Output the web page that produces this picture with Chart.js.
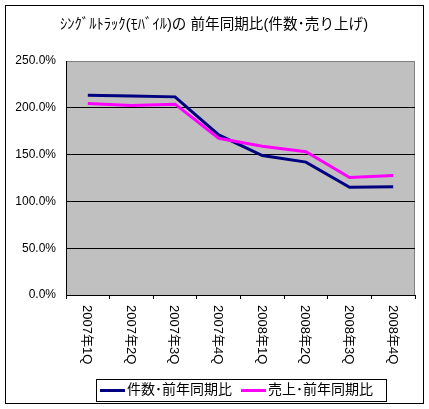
<!DOCTYPE html>
<html>
<head>
<meta charset="utf-8">
<script src="https://cdn.jsdelivr.net/npm/chart.js@4.4.1/dist/chart.umd.min.js"></script>
<style>
html,body{margin:0;padding:0;background:#fff;}
canvas{display:block;}
</style>
</head>
<body>
<canvas id="c" width="429" height="409"></canvas>
<script>
const titleText = 'ｼﾝｸﾞﾙﾄﾗｯｸ(ﾓﾊﾞｲﾙ)の 前年同期比(件数･売り上げ)';
const categories = ['2007年1Q','2007年2Q','2007年3Q','2007年4Q','2008年1Q','2008年2Q','2008年3Q','2008年4Q'];
const countLabel = '件数･前年同期比';
const salesLabel = '売上･前年同期比';
const countValues = [213.5, 212.5, 211.7, 171.0, 149.0, 142.0, 115.0, 115.6];
const salesValues = [204.6, 202.5, 203.9, 167.5, 159.0, 153.0, 125.5, 127.7];
const yTicks = [0, 50, 100, 150, 200, 250];

const FONT = "'Liberation Sans','Noto Sans CJK JP',sans-serif";
const NAVY = '#000080';
const PINK = '#FF00FF';

const decor = {
  id: 'decor',
  beforeDraw(chart) {
    const ctx = chart.ctx;
    const a = chart.chartArea;
    ctx.save();
    ctx.fillStyle = '#fff';
    ctx.fillRect(0, 0, chart.width, chart.height);
    ctx.fillStyle = '#C0C0C0';
    ctx.fillRect(a.left, a.top, a.right - a.left, a.bottom - a.top);
    ctx.strokeStyle = '#808080';
    ctx.lineWidth = 1;
    ctx.strokeRect(a.left + 0.5, a.top + 0.5, a.right - a.left - 1, a.bottom - a.top);
    ctx.restore();
  },
  afterDraw(chart) {
    const ctx = chart.ctx;
    const a = chart.chartArea;
    const xs = chart.scales.x;
    ctx.save();
    // rotated category labels (clockwise)
    ctx.fillStyle = '#000';
    ctx.font = '13px ' + FONT;
    ctx.textAlign = 'left';
    ctx.textBaseline = 'middle';
    chart.data.labels.forEach((lab, i) => {
      const x = xs.getPixelForTick(i);
      ctx.save();
      ctx.translate(x - 1, a.bottom + 10);
      ctx.rotate(Math.PI / 2);
      ctx.fillText(lab, 0, 0);
      ctx.restore();
    });
    // outer frame
    ctx.strokeStyle = '#000';
    ctx.lineWidth = 1;
    ctx.strokeRect(5.5, 5.5, 418, 398);
    // legend
    const lx = 96, ly = 379, lw = 290, lh = 22;
    ctx.strokeRect(lx + 0.5, ly + 0.5, lw, lh);
    const cy = ly + lh / 2 + 0.5;
    const ds = chart.data.datasets;
    ctx.font = '14px ' + FONT;
    ctx.textBaseline = 'middle';
    let x = lx + 4;
    ds.forEach((d, i) => {
      ctx.strokeStyle = d.borderColor;
      ctx.lineWidth = 3;
      ctx.beginPath();
      ctx.moveTo(x, cy);
      ctx.lineTo(x + 25, cy);
      ctx.stroke();
      ctx.fillStyle = '#000';
      ctx.fillText(d.label, x + 27, cy);
      x += 27 + ctx.measureText(d.label).width + 9;
    });
    ctx.restore();
  }
};

new Chart(document.getElementById('c'), {
  type: 'line',
  data: {
    labels: categories,
    datasets: [
      { label: countLabel, data: countValues, borderColor: NAVY, backgroundColor: NAVY,
        borderWidth: 3, pointRadius: 0, tension: 0, order: 1 },
      { label: salesLabel, data: salesValues, borderColor: PINK, backgroundColor: PINK,
        borderWidth: 3, pointRadius: 0, tension: 0, order: 0 }
    ]
  },
  options: {
    responsive: false,
    animation: false,
    devicePixelRatio: 1,
    layout: { padding: { left: 13, right: 14, top: 0, bottom: 31 } },
    plugins: {
      legend: { display: false },
      tooltip: { enabled: false },
      title: {
        display: true,
        text: titleText,
        color: '#000',
        font: { family: FONT, size: 14.6, weight: 'normal', lineHeight: 1.2 },
        padding: { top: 16.5, bottom: 27 }
      }
    },
    scales: {
      x: {
        offset: true,
        afterFit: (s) => { s.height = 83; },
        border: { color: '#000', width: 1 },
        grid: { offset: true, drawOnChartArea: false, drawTicks: true, tickLength: 4, color: '#000' },
        ticks: { display: false }
      },
      y: {
        min: 0, max: 250,
        afterFit: (s) => { s.width = 53; },
        afterBuildTicks: (s) => { s.ticks = yTicks.map(v => ({ value: v })); },
        border: { color: '#000', width: 1 },
        grid: { drawTicks: false, color: (c) => (c.tick && c.tick.value === 250) ? '#808080' : '#000' },
        ticks: {
          padding: 10,
          color: '#000',
          font: { family: FONT, size: 12 },
          callback: (v) => Number(v).toFixed(1) + '%'
        }
      }
    }
  },
  plugins: [decor]
});
</script>
</body>
</html>
